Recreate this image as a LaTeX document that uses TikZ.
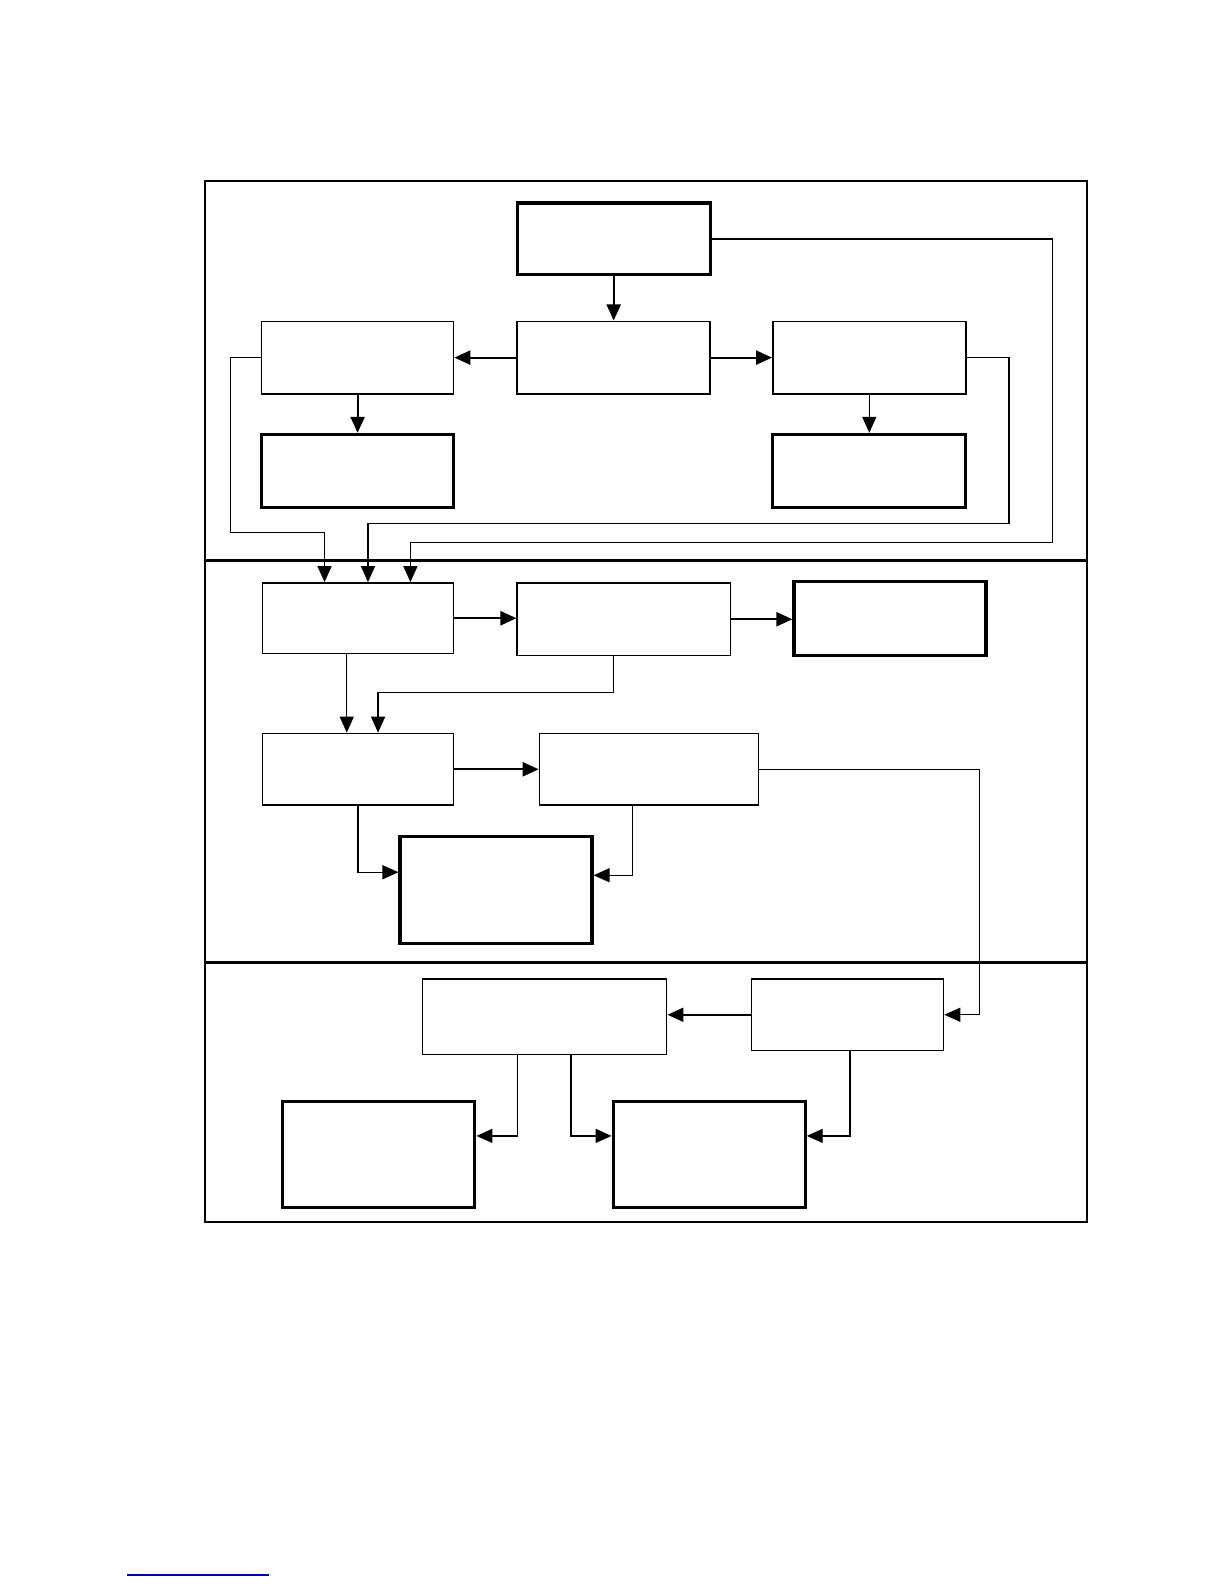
\documentclass[tikz,border=0pt]{standalone}
\usepackage{xcolor}
\usepackage{tikz}
\usetikzlibrary{arrows.meta,positioning,calc,fit}

\newlength\pxu
\setlength\pxu{0.505pt}

\begin{document}
\begin{tikzpicture}[
  x=\pxu,y=-\pxu,
  thinbox/.style={
    draw=black,
    line width=0.75pt,
    inner sep=0pt
  },
  thickbox/.style={
    draw=black,
    line width=1.6pt,
    inner sep=0pt
  },
flow/.style={
  draw=black,
  line width=1.1pt,
  -{Triangle[length=8pt,width=7pt]}
},
feed/.style={
  draw=black,
  line width=0.7pt,
  -{Triangle[length=8pt,width=7pt]}
},
  lane/.style={draw=black, line width=1.7pt},
]
\useasboundingbox (0,0) rectangle (1212,1568);

% Frame and lanes
\node[draw=black, line width=1pt, inner sep=0pt, fit={(203,179) (1076,1210)}] (frame) {};
\draw[lane] (frame.west |- 0,555) -- (frame.east |- 0,555);
\draw[lane] (frame.west |- 0,953) -- (frame.east |- 0,953);

% Top lane
\node[thickbox, fit={(512,201) (703,272)}] (src) {};
\node[thinbox, fit={(512,318) (703,390)}] (hub) {};
\node[thinbox, fit={(259,318) (449,390)}] (lft) {};
\node[thinbox, fit={(765,318) (956,390)}] (rgt) {};
\node[thickbox, fit={(259,430) (449,502)}] (lftout) {};
\node[thickbox, fit={(765,430) (956,502)}] (rgtout) {};

% Middle lane
\node[thinbox, fit={(260,577) (449,647)}] (merge) {};
\node[thinbox, fit={(512,577) (723,649)}] (proc) {};
\node[thickbox, fit={(786,576) (976,649)}] (out) {};
\node[thinbox, fit={(260,726) (449,797)}] (join) {};
\node[thinbox, fit={(534,726) (751,797)}] (stage) {};
\node[thickbox, fit={(396,828) (586,934)}] (sink) {};

% Bottom lane
\node[thinbox, fit={(418,969) (660,1044)}] (combo) {};
\node[thinbox, fit={(744,969) (934,1040)}] (relay) {};
\node[thickbox, fit={(280,1090) (470,1195)}] (outa) {};
\node[thickbox, fit={(607,1090) (797,1195)}] (outb) {};

% Entry points
\coordinate (inA) at ($(merge.north west)+(62,0)$);
\coordinate (inB) at ($(merge.north west)+(105,0)$);
\coordinate (inC) at ($(merge.north west)+(147,0)$);
\coordinate (dA) at ($(merge.south west)+(84,0)$);
\coordinate (pS) at ($(proc.south west)+(96,0)$);
\coordinate (inJ) at ($(join.north west)+(115,0)$);
\coordinate (sO) at ($(stage.south west)+(93,0)$);
\coordinate (sinkL) at ($(sink.north west)+(0,37)$);
\coordinate (sinkR) at ($(sink.north east)+(0,40)$);
\coordinate (cL) at ($(combo.south west)+(95,0)$);
\coordinate (cR) at ($(combo.south west)+(148,0)$);
\coordinate (rS) at ($(relay.south west)+(98,0)$);
\coordinate (outaR) at ($(outa.north east)+(0,36)$);
\coordinate (outbL) at ($(outb.north west)+(0,36)$);
\coordinate (outbR) at ($(outb.north east)+(0,36)$);

% Top lane arrows
\draw[flow] (src) -- (hub);
\draw[flow] (hub) -- (lft);
\draw[flow] (hub) -- (rgt);
\draw[flow] (lft) -- (lftout);
\draw[feed] (rgt) -- (rgtout);

% Feedback lines into merge
\draw[feed] (lft.west) -- ++(-30,0) |- ($(inA)+(0,-49)$) -- (inA);
\draw[feed] (rgt.east) -- ++(42,0) |- ($(inB)+(0,-58)$) -- (inB);
\draw[feed] (src.east) -- ++(337,0) |- ($(inC)+(0,-39)$) -- (inC);

% Middle lane arrows
\draw[flow] (merge.east) -- (merge.east -| proc.west);
\draw[flow] (proc.east) -- (proc.east -| out.west);
\draw[feed] (dA) -- (dA |- join.north);
\draw[feed] (pS) -- ++(0,36) -| (inJ);
\draw[flow] (join.east) -- (join.east -| stage.west);
\draw[feed] (join.south) |- (sinkL);
\draw[feed] (sO) |- (sinkR);
\draw[feed] (stage.east) -- ++(218,0) |- (relay.east);

% Bottom lane arrows
\draw[flow] (relay.west) -- (relay.west -| combo.east);
\draw[feed] (cL) |- (outaR);
\draw[feed] (cR) |- (outbL);
\draw[feed] (rS) |- (outbR);

% Rule at the foot of the page
\draw[blue!70!black, line width=0.8pt] (126,1559) -- (266,1559);

\end{tikzpicture}
\end{document}
